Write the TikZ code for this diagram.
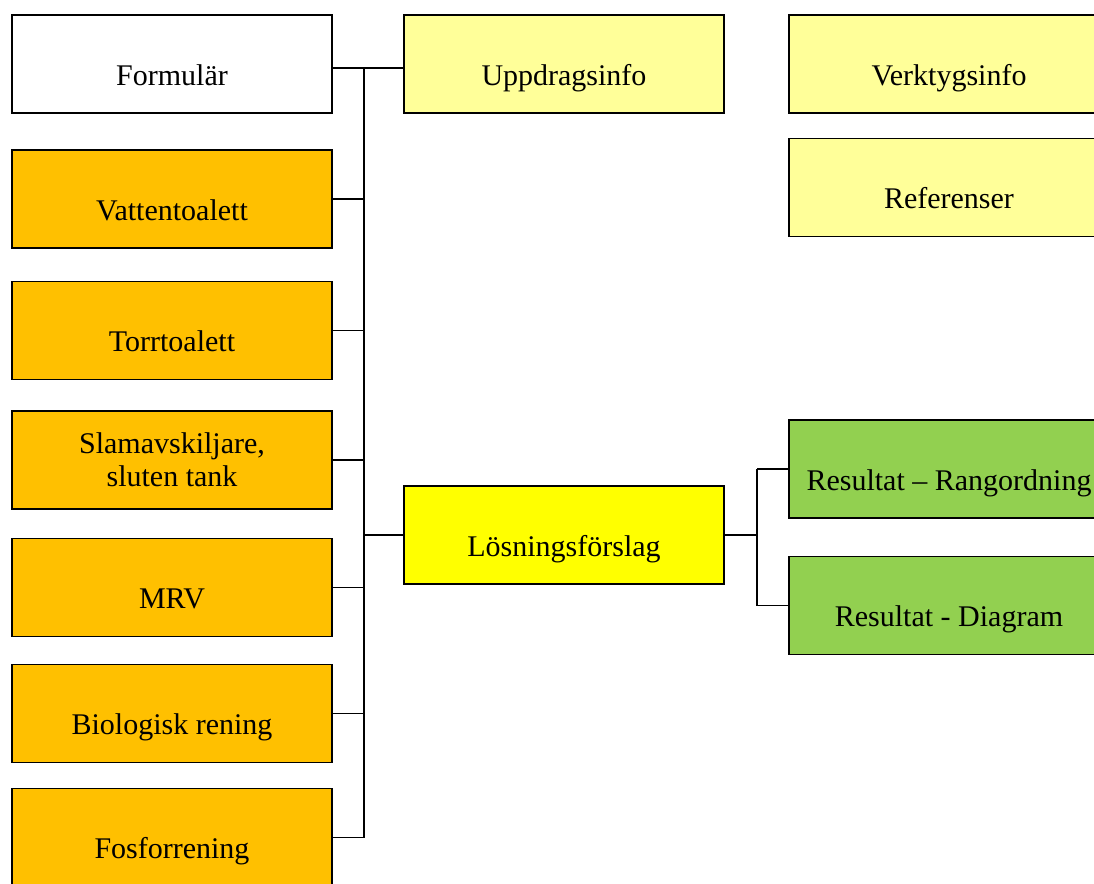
\documentclass[tikz,border=0pt]{standalone}
\usepackage{fontspec}
\setmainfont{Liberation Serif}
\usepackage{xcolor}
\usepackage{tikz}
\definecolor{paleyellow}{HTML}{FFFF99}
\definecolor{brightyellow}{HTML}{FFFF00}
\definecolor{orangefill}{HTML}{FFC000}
\definecolor{greenfill}{HTML}{92D050}
\tikzset{
    chart_box/.style = {rectangle, draw=black, line width=0.6pt, minimum width=128pt, minimum height=39.2pt, inner sep=0pt, align=center, text height=16.8pt, text depth=0pt, font=\fontsize{12}{13.2}\selectfont},
    white_box/.style = {chart_box, fill=white},
    pale_box/.style = {chart_box, fill=paleyellow},
    yellow_box/.style = {chart_box, fill=brightyellow},
    orange_box/.style = {chart_box, fill=orangefill},
    green_box/.style = {chart_box, fill=greenfill},
    two_line/.style = {text height={}, text depth={}},
    link/.style = {draw=black, line width=0.5pt}
}

\begin{document}
\begin{tikzpicture}[x=0.4pt, y=-0.4pt]
    \useasboundingbox (0,0) rectangle (1094,883);
    \clip (0,0) rectangle (1094,883);
    \node [white_box] (form) at (172,64) {Formulär};
    \node [pale_box] (uppdrag) at (564,64) {Uppdragsinfo};
    \node [pale_box] (verktyg) at (949,64) {Verktygsinfo};
    \node [pale_box] (ref) at (949,187.5) {Referenser};
    \node [orange_box] (vatten) at (172,199) {Vattentoalett};
    \node [orange_box] (torr) at (172,330.5) {Torrtoalett};
    \node [orange_box, two_line] (slam) at (172,460) {Slamavskiljare,\\ sluten tank};
    \node [orange_box] (mrv) at (172,587.5) {MRV};
    \node [orange_box] (bio) at (172,713.5) {Biologisk rening};
    \node [orange_box] (fosfor) at (172,837.5) {Fosforrening};
    \node [yellow_box] (losning) at (564,535) {Lösningsförslag};
    \node [green_box] (rang) at (949,469) {Resultat – Rangordning};
    \node [green_box] (diagram) at (949,605.5) {Resultat - Diagram};
    \coordinate (bus) at (364,0);
    \coordinate (bus2) at (757,0);
    \coordinate (top) at ([yshift=-1.6pt]form.east);
    \draw [link] (top) -- (top -| uppdrag.west);
    \draw [link] (top -| bus) -- (fosfor.east -| bus);
    \foreach \n in {vatten, torr, slam, mrv, bio, fosfor}
        \draw [link] (\n.east) -- (\n.east -| bus);
    \draw [link] (losning.west) -- (losning.west -| bus);
    \draw [link] (losning.east) -- (losning.east -| bus2);
    \draw [link] (rang.west -| bus2) -- (diagram.west -| bus2);
    \draw [link] (rang.west) -- (rang.west -| bus2);
    \draw [link] (diagram.west) -- (diagram.west -| bus2);
\end{tikzpicture}
\end{document}
